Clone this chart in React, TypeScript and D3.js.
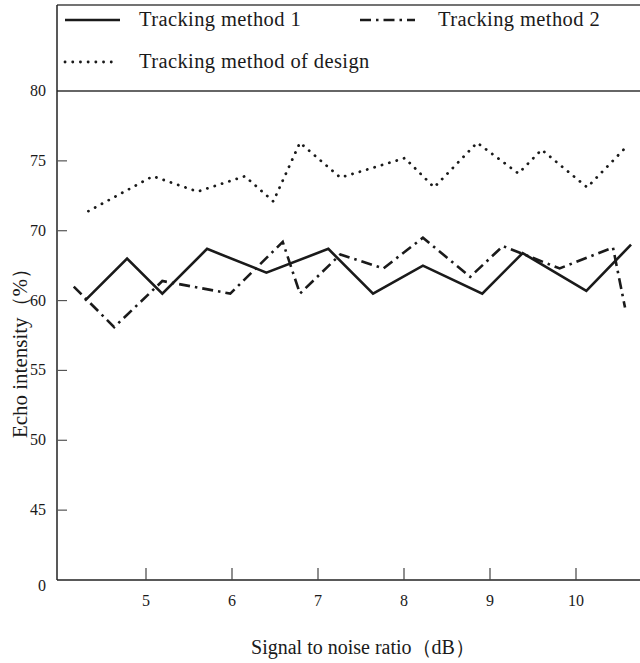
import React from "react";
import * as d3 from "d3";

const xTickValues = [5, 6, 7, 8, 9, 10];
const yTickValues = [45, 50, 55, 60, 65, 70, 75, 80];
const yTickLabels = ["0", "45", "50", "55", "60", "70", "75", "80"];

const method1X = [4.29, 4.78, 5.19, 5.71, 6.4, 7.12, 7.64, 8.22, 8.91, 9.38, 10.12, 10.64];
const method1Y = [65.0, 68.0, 65.5, 68.7, 67.0, 68.7, 65.5, 67.5, 65.5, 68.4, 65.7, 69.0];

const method2X = [4.16, 4.63, 5.19, 5.98, 6.59, 6.79, 7.26, 7.76, 8.22, 8.77, 9.15, 9.81, 10.43, 10.57];
const method2Y = [66.0, 63.1, 66.4, 65.5, 69.2, 65.5, 68.3, 67.3, 69.5, 66.7, 68.9, 67.3, 68.8, 64.5];

const designX = [4.33, 5.08, 5.6, 6.15, 6.48, 6.79, 7.26, 8.01, 8.35, 8.85, 9.33, 9.6, 10.13, 10.6];
const designY = [71.4, 73.9, 72.8, 73.9, 72.1, 76.3, 73.8, 75.2, 73.1, 76.3, 74.1, 75.8, 73.1, 76.1];

const seriesNames = ["Tracking method 1", "Tracking method 2", "Tracking method of design"];
const xTitle = "Signal to noise ratio（dB）";
const yTitle = "Echo intensity（%）";

export default function App() {
  const W = 640, H = 663;
  const left = 57, right = 640, top = 5, bottom = 580;
  const x = d3.scaleLinear().domain([5, 10]).range([146, 576]);
  const y = d3.scaleLinear().domain([45, 80]).range([580, 91]);
  const line = d3.line<[number, number]>().x(d => x(d[0])).y(d => y(d[1]));
  const zip = (a: number[], b: number[]) => a.map((v, i) => [v, b[i]] as [number, number]);
  const font = "'Liberation Serif', 'Times New Roman', serif";
  const ink = "#1a1a1a";
  const styles = [
    { dash: "none", w: 2.6, cap: "butt" },
    { dash: "11 5 2.5 5", w: 2.6, cap: "butt" },
    { dash: "0.1 7.6", w: 2.8, cap: "round" },
  ];
  const data = [zip(method1X, method1Y), zip(method2X, method2Y), zip(designX, designY)];
  const legend = [
    { x1: 65, x2: 120, y: 20, tx: 139 },
    { x1: 360, x2: 415, y: 20, tx: 438 },
    { x1: 65, x2: 114, y: 62, tx: 139 },
  ];
  return (
    <svg width={W} height={H} style={{ position: "absolute", left: 0, top: 0, background: "#fff" }} fontFamily={font}>
      <rect x={0} y={0} width={W} height={H} fill="#fff" />
      {/* frame */}
      <line x1={left} x2={right} y1={top} y2={top} stroke="#444" strokeWidth={1.5} />
      <line x1={left} x2={right} y1={y(80)} y2={y(80)} stroke="#333" strokeWidth={1.5} />
      <line x1={left} x2={left} y1={top} y2={bottom} stroke="#222" strokeWidth={1.5} />
      <line x1={left} x2={right} y1={bottom} y2={bottom} stroke="#222" strokeWidth={1.5} />
      {/* y ticks */}
      {yTickValues.map((v, i) => (
        <g key={"y" + v}>
          {i > 0 && i < yTickValues.length - 1 && (
            <line x1={left} x2={left + 10} y1={y(v)} y2={y(v)} stroke="#555" strokeWidth={1.2} />
          )}
          <text x={46} y={y(v) + (i === 0 ? 11 : 5)} textAnchor="end" fontSize={16} fill={ink}>
            {yTickLabels[i]}
          </text>
        </g>
      ))}
      {/* x ticks */}
      {xTickValues.map(v => (
        <g key={"x" + v}>
          <line x1={x(v)} x2={x(v)} y1={bottom} y2={bottom - 12} stroke="#444" strokeWidth={1.2} />
          <text x={x(v)} y={bottom + 26} textAnchor="middle" fontSize={16} fill={ink}>
            {v}
          </text>
        </g>
      ))}
      {/* series */}
      {data.map((d, i) => (
        <path key={"s" + i} d={line(d) || ""} fill="none" stroke={ink} strokeWidth={styles[i].w}
          strokeDasharray={styles[i].dash} strokeLinecap={styles[i].cap as any} strokeLinejoin="miter" />
      ))}
      {/* legend */}
      {legend.map((l, i) => (
        <g key={"l" + i}>
          <line x1={l.x1} x2={l.x2} y1={l.y} y2={l.y} stroke={ink} strokeWidth={styles[i].w}
            strokeDasharray={styles[i].dash} strokeLinecap={styles[i].cap as any} />
          <text x={l.tx} y={l.y + 6} fontSize={20.5} letterSpacing={0.4} fill={ink}>{seriesNames[i]}</text>
        </g>
      ))}
      {/* titles */}
      <text x={363} y={654} textAnchor="middle" fontSize={20} fill={ink}>{xTitle}</text>
      <text transform={`translate(27,348) rotate(-90)`} textAnchor="middle" fontSize={21} fill={ink}>{yTitle}</text>
    </svg>
  );
}
